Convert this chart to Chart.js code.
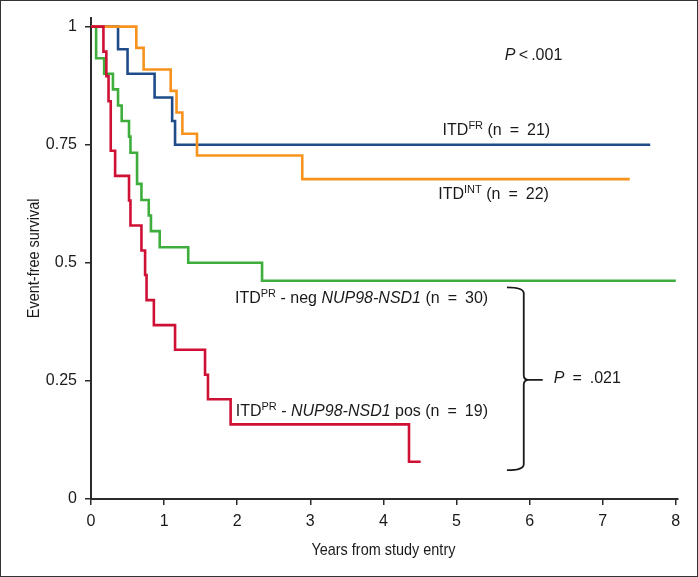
<!DOCTYPE html>
<html>
<head>
<meta charset="utf-8">
<script src="https://cdn.jsdelivr.net/npm/chart.js@4.4.1/dist/chart.umd.min.js"></script>
<style>
  html, body { margin: 0; padding: 0; background: #fff; }
  #wrap { width: 698px; height: 577px; }
</style>
</head>
<body>
<div id="wrap"><canvas id="km" width="698" height="577"></canvas></div>
<script>
// Kaplan-Meier steps (years, event-free survival)
const yearsFR = [0, 0.37, 0.50, 0.87, 1.11, 1.15, 7.65]
const survFR = [1, 0.952, 0.90, 0.85, 0.80, 0.75, 0.75]

const yearsINT = [0, 0.62, 0.72, 1.09, 1.17, 1.25, 1.45, 2.89, 7.37]
const survINT = [1, 0.955, 0.909, 0.864, 0.818, 0.773, 0.727, 0.677, 0.677]

const yearsNeg = [0, 0.07, 0.18, 0.30, 0.37, 0.42, 0.52, 0.54, 0.63, 0.69, 0.79, 0.82, 0.94, 1.33, 2.34, 8.0]
const survNeg = [1, 0.933, 0.90, 0.867, 0.833, 0.80, 0.767, 0.733, 0.667, 0.633, 0.60, 0.567, 0.533, 0.50, 0.462, 0.462]

const yearsPos = [0, 0.17, 0.21, 0.24, 0.27, 0.33, 0.52, 0.54, 0.69, 0.74, 0.76, 0.86, 1.15, 1.56, 1.60, 1.91, 4.35, 4.51]
const survPos = [1, 0.947, 0.895, 0.842, 0.737, 0.684, 0.632, 0.579, 0.526, 0.474, 0.421, 0.368, 0.316, 0.263, 0.211, 0.158, 0.079, 0.079]

const xTickValues = [0, 1, 2, 3, 4, 5, 6, 7, 8]
const yTickValues = [0, 0.25, 0.5, 0.75, 1]
const yTickLabels = ['0', '0.25', '0.5', '0.75', '1']
const xTitle = 'Years from study entry'
const yTitle = 'Event-free survival'

const BLUE = '#1f4c89'
const ORANGE = '#f7931d'
const GREEN = '#3dae3b'
const RED = '#cf1035'
const INK = '#2b2b2b'
const SANS = "'Liberation Sans', Arial, Helvetica, sans-serif"
const NARROW = 0.85 // horizontal squeeze to mimic the condensed axis font

function toPoints(xs, ys) {
  return xs.map((x, i) => ({ x, y: ys[i] }))
}

function stepLine(xs, ys, color) {
  return {
    data: toPoints(xs, ys),
    borderColor: color,
    borderWidth: 2.6,
    stepped: true,
    fill: false,
    pointRadius: 0,
    tension: 0
  }
}

// parts: [text, kind] with kind 'n' normal, 'i' italic, 's' superscript
function drawRich(ctx, x, y, parts) {
  let cx = x
  for (const [txt, kind] of parts) {
    if (kind === 's') {
      ctx.font = '11px ' + SANS
      ctx.fillText(txt, cx, y - 6)
    } else if (kind === 'i') {
      ctx.font = 'italic 16px ' + SANS
      ctx.fillText(txt, cx, y)
    } else {
      ctx.font = '16px ' + SANS
      ctx.fillText(txt, cx, y)
    }
    cx += ctx.measureText(txt).width
  }
}

function drawSqueezed(ctx, text, x, y, rot) {
  ctx.save()
  ctx.translate(x, y)
  ctx.rotate(rot)
  ctx.scale(NARROW, 1)
  ctx.font = '17px ' + SANS
  ctx.textAlign = 'center'
  ctx.textBaseline = 'alphabetic'
  ctx.fillText(text, 0, 0)
  ctx.restore()
}

const EQ = '\u2002=\u2002'

const labels = [
  { x: 5.66, y: 0.930, parts: [['P', 'i'], ['\u2009<\u2009.001', 'n']] },
  { x: 4.81, y: 0.771, parts: [['ITD', 'n'], ['FR', 's'], [' (n' + EQ + '21)', 'n']] },
  { x: 4.75, y: 0.634, parts: [['ITD', 'n'], ['INT', 's'], [' (n' + EQ + '22)', 'n']] },
  { x: 1.97, y: 0.414, parts: [['ITD', 'n'], ['PR', 's'], [' - neg ', 'n'], ['NUP98-NSD1', 'i'], [' (n' + EQ + '30)', 'n']] },
  { x: 1.98, y: 0.175, parts: [['ITD', 'n'], ['PR', 's'], [' - ', 'n'], ['NUP98-NSD1', 'i'], [' pos (n' + EQ + '19)', 'n']] },
  { x: 6.33, y: 0.245, parts: [['P', 'i'], [EQ + '.021', 'n']] }
]

const annotate = {
  id: 'annotate',
  beforeDraw(chart) {
    const ctx = chart.ctx
    ctx.save()
    ctx.fillStyle = '#fff'
    ctx.fillRect(0, 0, chart.width, chart.height)
    ctx.restore()
  },
  afterDraw(chart) {
    const ctx = chart.ctx
    const xs = chart.scales.x
    const ys = chart.scales.y
    const area = chart.chartArea
    ctx.save()
    ctx.fillStyle = '#1a1a1a'
    ctx.textBaseline = 'alphabetic'
    ctx.textAlign = 'left'
    for (const l of labels) {
      drawRich(ctx, xs.getPixelForValue(l.x), ys.getPixelForValue(l.y), l.parts)
    }

    // axis titles in a condensed look
    drawSqueezed(ctx, xTitle, (xs.getPixelForValue(0) + xs.getPixelForValue(8)) / 2, area.bottom + 56, 0)
    drawSqueezed(ctx, yTitle, 39, (area.top + area.bottom) / 2, -Math.PI / 2)

    // curly bracket joining the two ITD-PR groups
    const xl = xs.getPixelForValue(5.69)
    const xv = xs.getPixelForValue(5.92)
    const xt = xs.getPixelForValue(6.18)
    const yTop = ys.getPixelForValue(0.448)
    const yMid = ys.getPixelForValue(0.252)
    const yBot = ys.getPixelForValue(0.061)
    ctx.strokeStyle = '#1a1a1a'
    ctx.lineWidth = 1.8
    ctx.beginPath()
    ctx.moveTo(xl, yTop)
    ctx.quadraticCurveTo(xv, yTop, xv, yTop + 6)
    ctx.lineTo(xv, yMid - 5)
    ctx.quadraticCurveTo(xv, yMid, xv + 5, yMid)
    ctx.quadraticCurveTo(xv, yMid, xv, yMid + 5)
    ctx.lineTo(xv, yBot - 6)
    ctx.quadraticCurveTo(xv, yBot, xl, yBot)
    ctx.moveTo(xv + 4, yMid)
    ctx.lineTo(xt, yMid)
    ctx.stroke()

    // figure frame
    ctx.strokeStyle = '#333'
    ctx.lineWidth = 1
    ctx.strokeRect(0.5, 0.5, chart.width - 1, chart.height - 1)
    ctx.restore()
  }
}

const ctx = document.getElementById('km').getContext('2d')
new Chart(ctx, {
  type: 'line',
  data: {
    datasets: [
      stepLine(yearsPos, survPos, RED),
      stepLine(yearsINT, survINT, ORANGE),
      stepLine(yearsNeg, survNeg, GREEN),
      stepLine(yearsFR, survFR, BLUE)
    ]
  },
  options: {
    responsive: false,
    animation: false,
    layout: { padding: { left: 0, top: 15, right: 20, bottom: 0 } },
    plugins: {
      legend: { display: false },
      tooltip: { enabled: false }
    },
    scales: {
      x: {
        type: 'linear',
        min: 0,
        max: 8.03,
        afterBuildTicks: (axis) => { axis.ticks = xTickValues.map(v => ({ value: v })) },
        afterFit: (axis) => { axis.height = 78 },
        border: { display: true, color: INK, width: 2 },
        grid: { drawOnChartArea: false, drawTicks: true, tickLength: 6, color: INK, lineWidth: 1.5 },
        ticks: {
          color: '#1a1a1a',
          padding: 7,
          maxRotation: 0,
          font: { family: SANS, size: 16 }
        }
      },
      y: {
        type: 'linear',
        min: 0,
        max: 1.019,
        afterBuildTicks: (axis) => { axis.ticks = yTickValues.map(v => ({ value: v })) },
        afterFit: (axis) => { axis.width = 91 },
        border: { display: true, color: INK, width: 2 },
        grid: { drawOnChartArea: false, drawTicks: true, tickLength: 6, color: INK, lineWidth: 1.5 },
        ticks: {
          color: '#1a1a1a',
          padding: 8,
          font: { family: SANS, size: 16 },
          callback: (v) => yTickLabels[yTickValues.indexOf(v)]
        }
      }
    }
  },
  plugins: [annotate]
})
</script>
</body>
</html>
